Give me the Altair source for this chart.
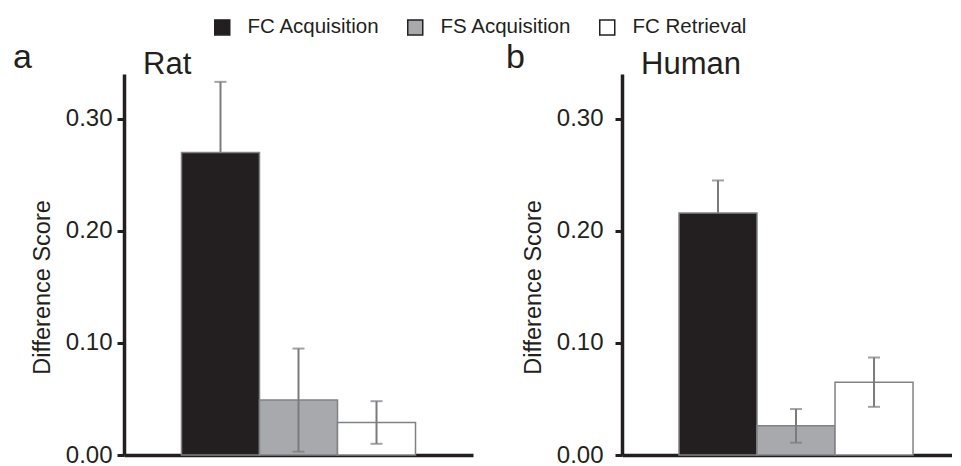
import altair as alt
import pandas as pd

DARK = "#231f20"
ERR = "#7a7b7e"
FONT = "Liberation Sans"

conditions = ["FC Acquisition", "FS Acquisition", "FC Retrieval"]
fills = ["#231f20", "#a7a9ac", "#ffffff"]

rat_means = [0.270, 0.049, 0.029]
rat_errors = [0.063, 0.046, 0.019]
human_means = [0.216, 0.026, 0.065]
human_errors = [0.029, 0.015, 0.022]

y_ticks = [0.0, 0.1, 0.2, 0.3]
y_title = "Difference Score"


def make_df(means, errs):
    return pd.DataFrame({
        "condition": conditions,
        "mean": means,
        "lo": [m - e for m, e in zip(means, errs)],
        "hi": [m + e for m, e in zip(means, errs)],
    })


def error_layers(df, behind):
    test = "datum.condition == 'FC Acquisition'" if behind else "datum.condition != 'FC Acquisition'"
    base = alt.Chart(df).transform_filter(test)
    xe = alt.X("condition:N", sort=conditions)
    rules = base.mark_rule(color=ERR, strokeWidth=2).encode(x=xe, y=alt.Y("lo:Q"), y2="hi:Q")
    cap_hi = base.mark_tick(color=ERR, thickness=2, size=12).encode(x=xe, y=alt.Y("hi:Q"))
    cap_lo = base.mark_tick(color=ERR, thickness=2, size=12).encode(x=xe, y=alt.Y("lo:Q"))
    return [rules, cap_hi, cap_lo]


def panel(df, title, letter, width, pad_outer, align, label_pad, title_x, letter_x):
    height = 381
    xenc = alt.X(
        "condition:N",
        sort=conditions,
        scale=alt.Scale(paddingInner=0, paddingOuter=pad_outer, align=align),
        axis=alt.Axis(title=None, labels=False, ticks=False, grid=False,
                      domainWidth=3.5, domainColor=DARK),
    )
    yscale = alt.Scale(domain=[0, 0.34], nice=False, zero=True)
    bars = alt.Chart(df).mark_bar(stroke="#808285", strokeWidth=1.5).encode(
        x=xenc,
        y=alt.Y(
            "mean:Q",
            scale=yscale,
            axis=alt.Axis(
                values=y_ticks, format=".2f", title=y_title, grid=False,
                labelFont=FONT, labelFontSize=24, labelColor=DARK,
                labelPadding=label_pad, tickSize=7, tickWidth=3, tickColor=DARK,
                domainWidth=3.5, domainColor=DARK,
                titleFont=FONT, titleFontSize=23.5, titleFontWeight="normal",
                titleColor=DARK, titleAngle=270, titleAlign="center",
                titleBaseline="alphabetic", titleX=title_x, titleY=213,
            ),
        ),
        fill=alt.Fill(
            "condition:N",
            sort=conditions,
            scale=alt.Scale(domain=conditions, range=fills),
            legend=alt.Legend(
                title=None, orient="none", direction="horizontal",
                legendX=88, legendY=-57,
                symbolType="square", symbolSize=225,
                symbolStrokeColor=DARK, symbolStrokeWidth=1.5,
                labelFont=FONT, labelFontSize=20.5, labelColor=DARK,
                labelOffset=15, columnPadding=24,
            ),
        ),
    )
    title_txt = alt.Chart(pd.DataFrame({"t": [title]})).mark_text(
        font=FONT, fontSize=31, color=DARK, align="left", baseline="alphabetic"
    ).encode(text="t:N", x=alt.value(19), y=alt.value(0))
    letter_txt = alt.Chart(pd.DataFrame({"t": [letter]})).mark_text(
        font=FONT, fontSize=34, color=DARK, align="left", baseline="alphabetic"
    ).encode(text="t:N", x=alt.value(letter_x), y=alt.value(-6))
    layers = error_layers(df, True) + [bars] + error_layers(df, False) + [title_txt, letter_txt]
    return alt.layer(*layers).properties(width=width, height=height)


left = panel(make_df(rat_means, rat_errors), "Rat", "a", 349, 0.737, 0.5, 5, -75, -111)
right = panel(make_df(human_means, human_errors), "Human", "b", 330, 0.615, 0.594, 12, -82, -116)

chart = alt.hconcat(left, right, spacing=33).properties(
    padding={"left": 5, "top": 9, "right": 0, "bottom": 0}
).configure(background="white").configure_view(stroke=None)

chart.save("out.html", embed_options={"renderer": "svg", "actions": False})
